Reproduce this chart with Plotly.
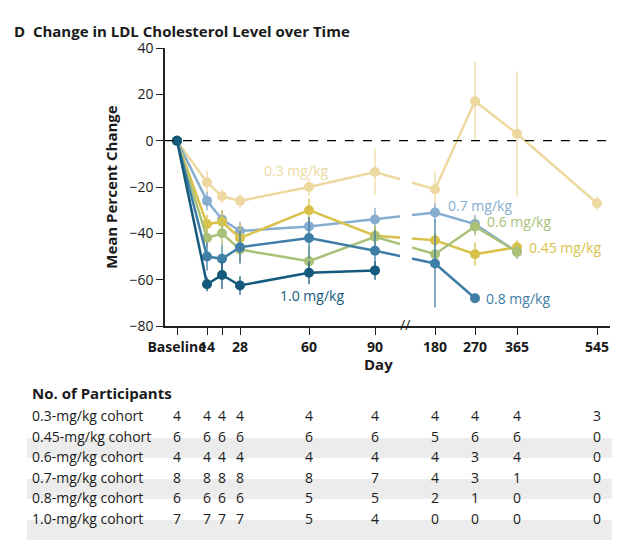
import plotly.graph_objects as go

# x positions on the broken day axis (keys are days)
day_pos = {0: 177, 14: 207, 21: 222, 28: 240, 60: 309, 90: 375,
           180: 435, 270: 475, 365: 517, 545: 597}
tick_days = [0, 14, 21, 28, 60, 90, 180, 270, 365, 545]
tick_text = ["<b>Baseline</b>", "<b>14</b>", "", "<b>28</b>", "<b>60</b>", "<b>90</b>",
             "<b>180</b>", "<b>270</b>", "<b>365</b>", "<b>545</b>"]

cohorts = ["0.3", "0.45", "0.6", "0.7", "0.8", "1.0"]
colors = {"0.3": "#edd9a0", "0.45": "#d8c24c", "0.6": "#a9c177",
          "0.7": "#86add0", "0.8": "#3f7ea6", "1.0": "#155a7c"}

days = {
    "0.3": [0, 14, 21, 28, 60, 90, 180, 270, 365, 545],
    "0.45": [0, 14, 21, 28, 60, 90, 180, 270, 365],
    "0.6": [0, 14, 21, 28, 60, 90, 180, 270, 365],
    "0.7": [0, 14, 21, 28, 60, 90, 180, 270, 365],
    "0.8": [0, 14, 21, 28, 60, 90, 180, 270],
    "1.0": [0, 14, 21, 28, 60, 90],
}
means = {
    "0.3": [0, -18, -24, -26, -20, -13.5, -21, 17, 3, -27],
    "0.45": [0, -36, -35, -42, -30, -41, -43, -49, -46],
    "0.6": [0, -42, -40, -47, -52, -41.5, -49, -37, -48],
    "0.7": [0, -26, -34, -39, -37, -34, -31, -36, -48],
    "0.8": [0, -50, -51, -46, -42, -47.5, -53, -68],
    "1.0": [0, -62, -58, -62.5, -57, -56],
}
errs = {
    "0.3": [0, 5, 3, 3, 4, 10, 8, 17, 27, 3],
    "0.45": [0, 4, 5, 6, 5, 4, 3, 5, 3],
    "0.6": [0, 4, 5, 6, 6, 5, 3, 4, 3],
    "0.7": [0, 4, 4, 4, 4, 5, 4, 4, 3],
    "0.8": [0, 6, 6, 7, 9, 9, 19, 0],
    "1.0": [0, 3, 6, 4, 5, 4],
}
participants = {
    "0.3": [4, 4, 4, 4, 4, 4, 4, 4, 4, 3],
    "0.45": [6, 6, 6, 6, 6, 6, 5, 6, 6, 0],
    "0.6": [4, 4, 4, 4, 4, 4, 4, 3, 4, 0],
    "0.7": [8, 8, 8, 8, 8, 7, 4, 3, 1, 0],
    "0.8": [6, 6, 6, 6, 5, 5, 2, 1, 0, 0],
    "1.0": [7, 7, 7, 7, 5, 4, 0, 0, 0, 0],
}

OFF = 8  # page body margin
W, H = 634 - 2 * OFF, 557 - 2 * OFF
L, R, T, B = 165 - OFF, 24 - OFF, 48 - OFF, 231 - OFF
FONT = "Open Sans"
TXT = "#1a1a1a"


def py(p):  # screen pixel y -> paper y
    return (H - B - (p - OFF)) / (H - T - B)


def px(p):  # screen pixel x -> paper x
    return (p - OFF - L) / (W - L - R)


fig = go.Figure()
fig.add_hline(y=0, line=dict(color="black", width=1.3, dash="dash"))

for c in ["0.3", "0.7", "0.45", "0.6", "0.8", "1.0"]:
    fig.add_trace(go.Scatter(
        x=[day_pos[d] for d in days[c]], y=means[c], mode="lines+markers",
        line=dict(color=colors[c], width=2.5),
        marker=dict(color=colors[c], size=10),
        error_y=dict(type="data", array=errs[c], color=colors[c], thickness=1.3, width=0),
        showlegend=False))

# gap in lines at the axis break
fig.add_shape(type="rect", xref="x", yref="y", x0=400, x1=412, y0=-75, y1=-5,
              fillcolor="white", line_width=0, layer="above")

labels = [("0.3 mg/kg", "0.3", 262, -13), ("0.7 mg/kg", "0.7", 446, -28),
          ("0.6 mg/kg", "0.6", 485, -35), ("0.45 mg/kg", "0.45", 527, -46),
          ("0.8 mg/kg", "0.8", 484, -68), ("1.0 mg/kg", "1.0", 278, -67)]
for t, c, x, y in labels:
    fig.add_annotation(x=x, y=y, text=t, showarrow=False, xanchor="left",
                       font=dict(color=colors[c], size=14, family=FONT))

fig.add_annotation(x=405, y=-80, text="//", showarrow=False, yshift=2,
                   font=dict(size=14, color=TXT))

fig.add_annotation(xref="paper", yref="paper", x=px(12), y=py(19), xanchor="left",
                   text="<b>D  Change in LDL Cholesterol Level over Time</b>",
                   showarrow=False, font=dict(size=15, family=FONT, color=TXT))
fig.add_shape(type="rect", xref="paper", yref="paper", x0=px(4), x1=px(629),
              y0=py(552), y1=py(4), line=dict(color="#9a9a9a", width=1.5))
fig.add_annotation(xref="paper", yref="paper", x=px(378), y=py(376),
                   text="<b>Day</b>", showarrow=False,
                   font=dict(size=15, family=FONT, color=TXT))

fig.add_annotation(xref="paper", yref="paper", x=px(30), y=py(405), xanchor="left",
                   text="<b>No. of Participants</b>", showarrow=False,
                   font=dict(size=15, family=FONT, color=TXT))
row_y = [427, 448, 468, 489, 509, 530]
for i, c in enumerate(cohorts):
    if i % 2 == 1:
        fig.add_shape(type="rect", xref="paper", yref="paper", x0=px(27), x1=px(612),
                      y0=py(row_y[i] + 10), y1=py(row_y[i] - 10),
                      fillcolor="#ececec", line_width=0, layer="below")
    fig.add_annotation(xref="paper", yref="paper", x=px(30), y=py(row_y[i]), xanchor="left",
                       text=f"{c}-mg/kg cohort", showarrow=False,
                       font=dict(size=14, family=FONT, color=TXT))
    for d, n in zip(tick_days, participants[c]):
        fig.add_annotation(xref="x", yref="paper", x=day_pos[d], y=py(row_y[i]),
                           text=str(n), showarrow=False,
                           font=dict(size=14, family=FONT, color=TXT))

fig.update_layout(
    width=W, height=H, margin=dict(l=L, r=R, t=T, b=B),
    paper_bgcolor="white", plot_bgcolor="white",
    font=dict(family=FONT, color=TXT, size=14),
    xaxis=dict(range=[165, 610], tickvals=[day_pos[d] for d in tick_days],
               ticktext=tick_text, tickangle=0, showgrid=False, zeroline=False,
               showline=True, linecolor="#222", linewidth=1.5,
               ticks="outside", ticklen=7, tickcolor="#222",
               tickfont=dict(size=14)),
    yaxis=dict(range=[-80, 40], tickvals=[40, 20, 0, -20, -40, -60, -80],
               ticktext=["40", "20", "0", "−20", "−40", "−60", "−80"],
               showgrid=False, zeroline=False, showline=True, linecolor="#222",
               linewidth=1.5, ticks="outside", ticklen=7, tickcolor="#222",
               title=dict(text="<b>Mean Percent Change</b>", font=dict(size=15),
                          standoff=8)),
)
fig.write_html("out.html")
